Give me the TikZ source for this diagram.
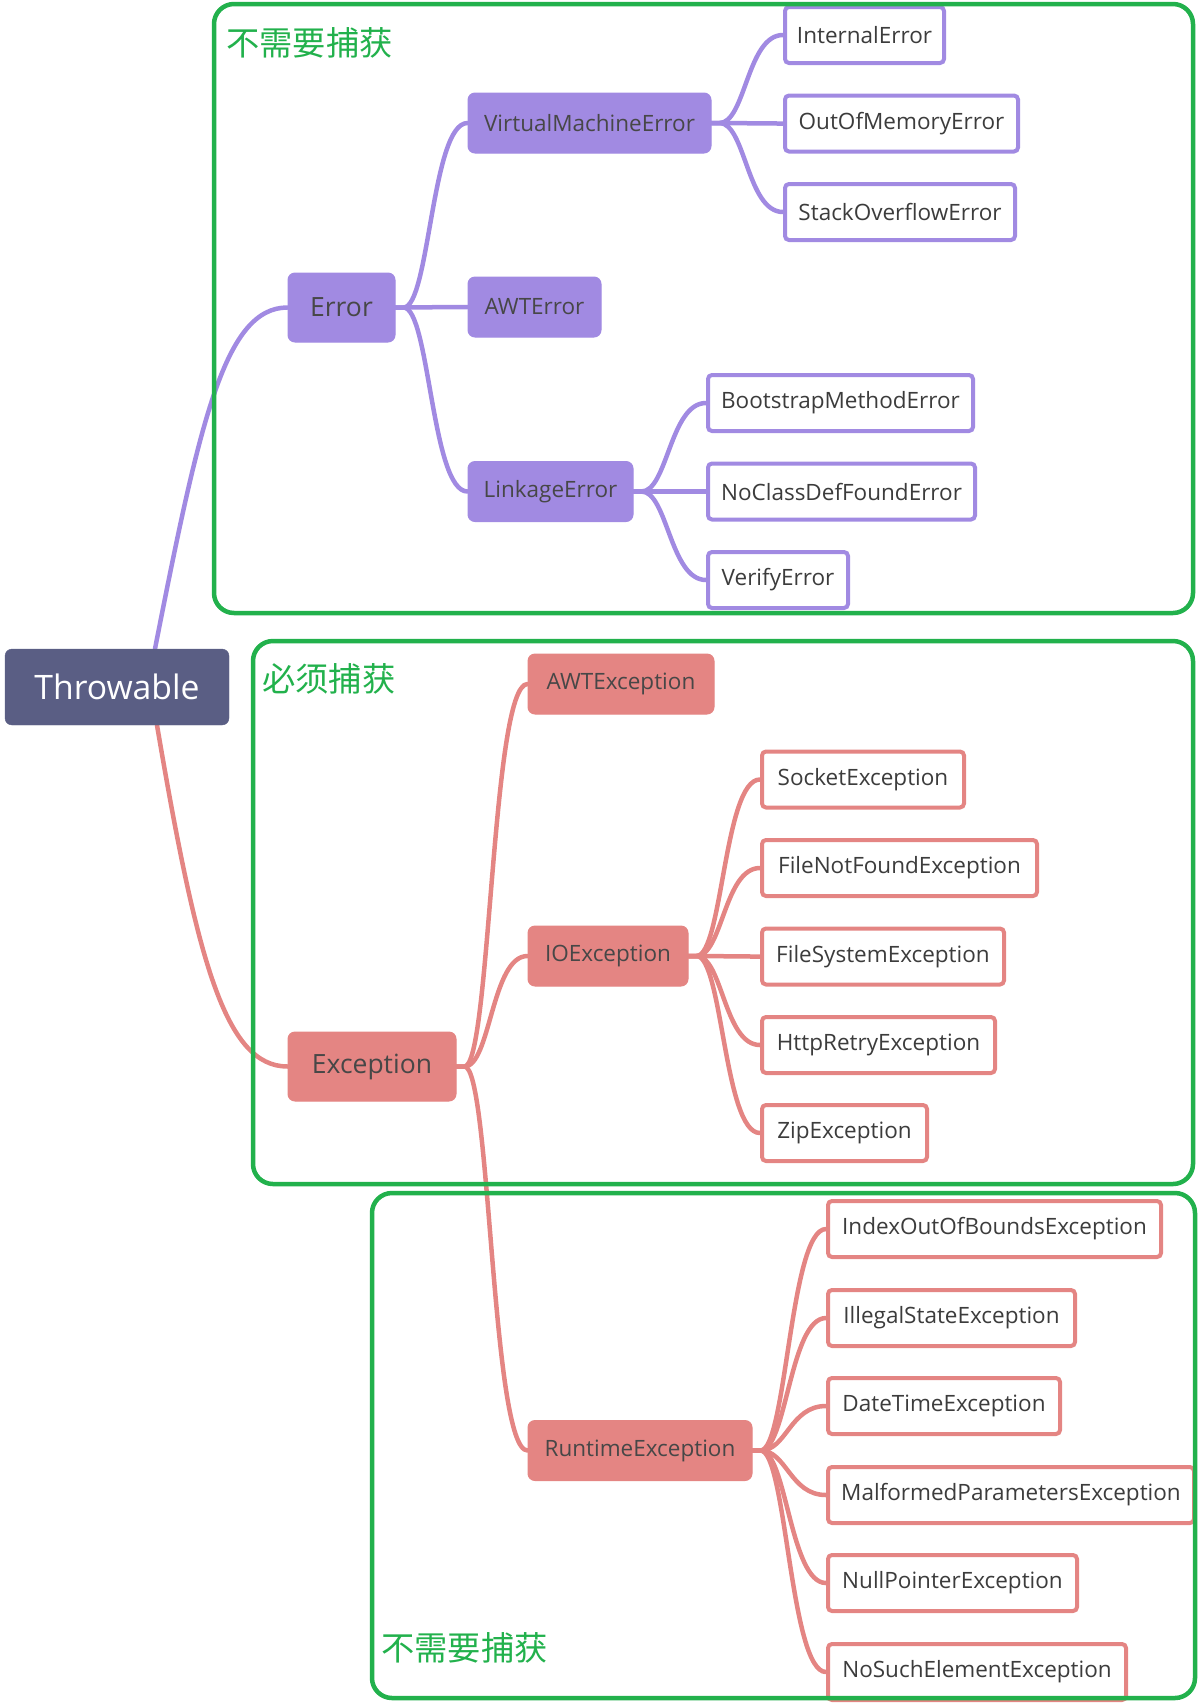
\documentclass[tikz,border=0pt]{standalone}
\usepackage{fontspec}
\usetikzlibrary{backgrounds}
\newfontfamily\uifont{Open Sans}
\newfontfamily\cjkfont{Noto Sans CJK SC}
\definecolor{purp}{HTML}{A18AE2}
\definecolor{rose}{HTML}{E48583}
\definecolor{rootc}{HTML}{5A5E84}
\definecolor{grn}{HTML}{22B14C}
\definecolor{txt}{HTML}{474747}
\definecolor{leaftxt}{HTML}{3C3C3C}
\begin{document}
\begin{tikzpicture}[x=1pt,y=-1pt,
  base/.style={inner sep=0pt, align=center},
  rootbox/.style={base, fill=rootc, draw=rootc, rounded corners=7pt, text=white,
    font=\uifont\fontsize{33.7}{38}\selectfont},
  midP/.style={base, fill=purp, draw=purp, line width=1pt, rounded corners=7pt, text=txt,
    font=\uifont\fontsize{22.5}{27}\selectfont},
  midR/.style={midP, fill=rose, draw=rose},
  topP/.style={midP, font=\uifont\fontsize{26.5}{31}\selectfont},
  topR/.style={midR, font=\uifont\fontsize{26.5}{31}\selectfont},
  leafP/.style={base, fill=white, draw=purp, line width=4pt, rounded corners=4pt, text=leaftxt,
    minimum height=56pt, font=\uifont\fontsize{22.5}{27}\selectfont},
  leafR/.style={leafP, draw=rose},
  conn/.style={line width=4.5pt, line cap=round},
  fan/.style={out=0, in=180, out distance=26pt, in distance=36pt},
  region/.style={draw=grn, line width=4.5pt, rounded corners=20pt},
  tag/.style={inner sep=0pt, anchor=west, text=grn, font=\cjkfont\fontsize{33.3}{37}\selectfont}
]
\useasboundingbox (0,0) rectangle (1200,1706);

% root and first level
\node[rootbox, minimum width=224pt, minimum height=76pt] (thr) at (117,687) {Throwable};
\node[topP, minimum width=107pt, minimum height=69pt] (err) at (341.5,307.5) {Error};
\node[topR, minimum width=168pt, minimum height=69pt] (exc) at (372,1066.5) {Exception};

% second level
\node[midP, minimum width=243pt, minimum height=60pt] (vme) at (589.5,123) {VirtualMachineError};
\node[midP, minimum width=133pt, minimum height=60pt] (awte) at (534.5,307) {AWTError};
\node[midP, minimum width=165pt, minimum height=60pt] (lnk) at (550.5,491.5) {LinkageError};
\node[midR, minimum width=186pt, minimum height=60pt] (awtx) at (621,684) {AWTException};
\node[midR, minimum width=160pt, minimum height=60pt] (io) at (608,956) {IOException};
\node[midR, minimum width=224pt, minimum height=60pt] (rt) at (640,1450.5) {RuntimeException};

% leaves
\node[leafP, minimum width=159pt] (ie) at (864.5,35) {InternalError};
\node[leafP, minimum width=233pt] (oom) at (901.5,123.5) {OutOfMemoryError};
\node[leafP, minimum width=230pt] (soe) at (900,212) {StackOverflowError};
\node[leafP, minimum width=265pt] (bme) at (840.5,403) {BootstrapMethodError};
\node[leafP, minimum width=267pt] (ncd) at (841.5,491.5) {NoClassDefFoundError};
\node[leafP, minimum width=140pt] (ver) at (778,580) {VerifyError};

\node[leafR, minimum width=202pt] (sock) at (863,779.5) {SocketException};
\node[leafR, minimum width=275pt] (fnf) at (899.5,868) {FileNotFoundException};
\node[leafR, minimum width=242pt] (fse) at (883,956.5) {FileSystemException};
\node[leafR, minimum width=233pt] (http) at (878.5,1045) {HttpRetryException};
\node[leafR, minimum width=165pt] (zip) at (844.5,1133) {ZipException};

\node[leafR, minimum width=333pt] (ioob) at (994.5,1229) {IndexOutOfBoundsException};
\node[leafR, minimum width=247pt] (ise) at (951.5,1318) {IllegalStateException};
\node[leafR, minimum width=232pt] (dte) at (944,1406) {DateTimeException};
\node[leafR, minimum width=366pt] (mpe) at (1011,1495) {MalformedParametersException};
\node[leafR, minimum width=249pt] (npe) at (952.5,1583) {NullPointerException};
\node[leafR, minimum width=298pt] (nse) at (977,1672) {NoSuchElementException};

% connectors, kept behind the boxes
\begin{pgfonlayer}{background}
  \coordinate (thrUp) at ([xshift=38pt]thr.north);
  \coordinate (thrDn) at ([xshift=40pt]thr.south);
  \draw[conn, purp] (thrUp) .. controls (200,420) and (225,307.5) .. (err.west);
  \draw[conn, rose] (thrDn) .. controls (197,960) and (225,1066.5) .. (exc.west);

  \foreach \c in {vme, awte, lnk}
    \draw[conn, purp] (err.east) -- ++(8,0) to[fan] (\c.west);
  \foreach \c in {ie, oom, soe}
    \draw[conn, purp] (vme.east) -- ++(8,0) to[fan] (\c.west);
  \foreach \c in {bme, ncd, ver}
    \draw[conn, purp] (lnk.east) -- ++(8,0) to[fan] (\c.west);

  \foreach \c in {awtx, io, rt}
    \draw[conn, rose] (exc.east) -- ++(8,0) to[fan] (\c.west);
  \foreach \c in {sock, fnf, fse, http, zip}
    \draw[conn, rose] (io.east) -- ++(8,0) to[fan] (\c.west);
  \foreach \c in {ioob, ise, dte, mpe, npe, nse}
    \draw[conn, rose] (rt.east) -- ++(8,0) to[fan] (\c.west);
\end{pgfonlayer}

% grouping frames, drawn over everything
\draw[region] (214,4) rectangle (1193,613);
\draw[region] (253,641) rectangle (1193,1184);
\draw[region] (372,1193) rectangle (1195,1698);
\node[tag] (tagA) at (226,43) {不需要捕获};
\node[tag] (tagB) at (262,679) {必须捕获};
\node[tag] (tagC) at (381,1648) {不需要捕获};
\end{tikzpicture}
\end{document}
